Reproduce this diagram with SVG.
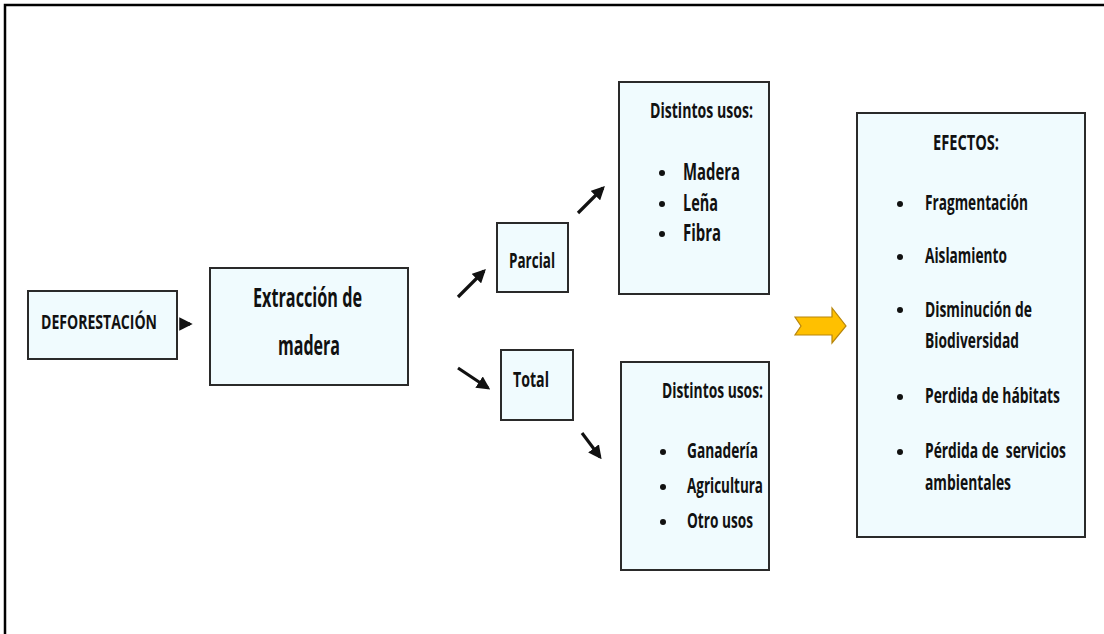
<svg xmlns="http://www.w3.org/2000/svg" width="1104" height="634" viewBox="0 0 1104 634">
<defs>
<style>
.box{fill:#F0FBFE;stroke:#2a2a2a;stroke-width:2}
.t{font-family:"Liberation Sans Narrow","Open Sans","Liberation Sans",sans-serif;font-weight:700;fill:#111}
.ln{stroke:#111;stroke-width:3.2;fill:none}
.bul{fill:#111}
</style>
<marker id="ah" viewBox="0 0 10 10" refX="8" refY="5" markerWidth="4.2" markerHeight="4.2" orient="auto" markerUnits="strokeWidth">
<path d="M0,0 L10,5 L0,10 Z" fill="#111"/>
</marker>
</defs>
<rect width="1104" height="634" fill="#fff"/>
<path d="M5,634 L5,5 L1104,5" fill="none" stroke="#000" stroke-width="2.5"/>

<g id="connectors">
<path class="ln" d="M184,324 L190,324" marker-end="url(#ah)"/>
<path class="ln" d="M458,297 L484,271" marker-end="url(#ah)"/>
<path class="ln" d="M578,213 L603,188" marker-end="url(#ah)"/>
<path class="ln" d="M458,368 L488,388" marker-end="url(#ah)"/>
<path class="ln" d="M582,433 L600,457" marker-end="url(#ah)"/>
<path d="M795,317 L832,317 L832,308 L846,326 L832,343 L832,335 L795,335 L801,326 Z" fill="#FFC000" stroke="#B8860B" stroke-width="1.2"/>
</g>

<g id="deforestacion">
<rect class="box" x="28" y="291" width="149" height="68"/>
<text class="t" x="41" y="329" font-size="19" textLength="116" lengthAdjust="spacingAndGlyphs">DEFORESTACIÓN</text>
</g>

<g id="extraccion">
<rect class="box" x="210" y="268" width="198" height="117"/>
<text class="t" x="253" y="307" font-size="26" textLength="109" lengthAdjust="spacingAndGlyphs">Extracción de</text>
<text class="t" x="278" y="355" font-size="26" textLength="62" lengthAdjust="spacingAndGlyphs">madera</text>
</g>

<g id="parcial">
<rect class="box" x="497" y="223" width="71" height="69"/>
<text class="t" x="509" y="268" font-size="22" textLength="46" lengthAdjust="spacingAndGlyphs">Parcial</text>
</g>

<g id="total">
<rect class="box" x="501" y="350" width="72" height="70"/>
<text class="t" x="513" y="387" font-size="21" textLength="36" lengthAdjust="spacingAndGlyphs">Total</text>
</g>

<g id="usos-parcial">
<rect class="box" x="619" y="82" width="150" height="212"/>
<text class="t" x="650" y="118" font-size="22" textLength="103" lengthAdjust="spacingAndGlyphs">Distintos usos:</text>
<circle class="bul" cx="662" cy="173" r="3"/>
<circle class="bul" cx="662" cy="204" r="3"/>
<circle class="bul" cx="662" cy="234" r="3"/>
<text class="t" x="683" y="180" font-size="24" textLength="57" lengthAdjust="spacingAndGlyphs">Madera</text>
<text class="t" x="683" y="211" font-size="24" textLength="35" lengthAdjust="spacingAndGlyphs">Leña</text>
<text class="t" x="683" y="241" font-size="24" textLength="38" lengthAdjust="spacingAndGlyphs">Fibra</text>
</g>

<g id="usos-total">
<rect class="box" x="621" y="362" width="148" height="208"/>
<text class="t" x="662" y="398" font-size="22" textLength="101" lengthAdjust="spacingAndGlyphs">Distintos usos:</text>
<circle class="bul" cx="663" cy="452" r="3"/>
<circle class="bul" cx="663" cy="487" r="3"/>
<circle class="bul" cx="663" cy="522" r="3"/>
<text class="t" x="687" y="458" font-size="22" textLength="71" lengthAdjust="spacingAndGlyphs">Ganadería</text>
<text class="t" x="687" y="493" font-size="22" textLength="76" lengthAdjust="spacingAndGlyphs">Agricultura</text>
<text class="t" x="687" y="528" font-size="22" textLength="66" lengthAdjust="spacingAndGlyphs">Otro usos</text>
</g>

<g id="efectos">
<rect class="box" x="857" y="113" width="228" height="424"/>
<text class="t" x="933" y="150" font-size="21" textLength="66" lengthAdjust="spacingAndGlyphs">EFECTOS:</text>
<circle class="bul" cx="900" cy="204" r="3"/>
<circle class="bul" cx="900" cy="257" r="3"/>
<circle class="bul" cx="900" cy="310" r="3"/>
<circle class="bul" cx="900" cy="397" r="3"/>
<circle class="bul" cx="900" cy="452" r="3"/>
<text class="t" x="925" y="210" font-size="21" textLength="103" lengthAdjust="spacingAndGlyphs">Fragmentación</text>
<text class="t" x="925" y="263" font-size="21" textLength="82" lengthAdjust="spacingAndGlyphs">Aislamiento</text>
<text class="t" x="925" y="317" font-size="21" textLength="107" lengthAdjust="spacingAndGlyphs">Disminución de</text>
<text class="t" x="925" y="348" font-size="21" textLength="94" lengthAdjust="spacingAndGlyphs">Biodiversidad</text>
<text class="t" transform="translate(925,403) scale(0.72,1)" x="0" y="0" font-size="21" textLength="187.5" lengthAdjust="spacingAndGlyphs">Perdida de hábitats</text>
<text class="t" transform="translate(925,458) scale(0.72,1)" x="0" y="0" font-size="21" textLength="195.8" lengthAdjust="spacingAndGlyphs" xml:space="preserve">Pérdida de  servicios</text>
<text class="t" x="925" y="490" font-size="21" textLength="86" lengthAdjust="spacingAndGlyphs">ambientales</text>
</g>
</svg>
